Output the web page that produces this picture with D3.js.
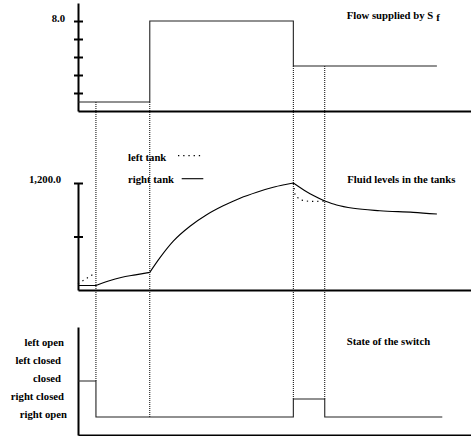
<!DOCTYPE html>
<html>
<head>
<meta charset="utf-8">
<script src="https://cdn.jsdelivr.net/npm/d3@7"></script>
<style>
  body { margin: 0; background: #fff; }
  svg text { font-family: "Liberation Serif", "Times New Roman", serif; font-weight: bold; font-size: 10.7px; fill: #000; }
</style>
</head>
<body>
<svg id="chart" width="471" height="436"></svg>
<script>
// flow supplied by the source (step signal)
const flowTimes = [0, 40, 120, 200];
const flowValues = [0.8, 8.0, 4.0, 4.0];
const flowTicks = [1.6, 3.2, 4.8, 6.4, 8.0];

// fluid levels
const rightTimes = [0, 10, 17, 24, 32, 40, 45.7, 53.1, 62.4, 71.7, 80.9, 90.3, 99.6, 108.8, 115, 120,
  127.4, 137.5, 144.1, 153.4, 168.2, 186.8, 200];
const rightValues = [50, 50, 100, 140, 170, 198, 363, 548, 715, 844, 944, 1030, 1097, 1152, 1180, 1200,
  1102, 997, 953, 916, 889, 871, 852];
const leftTimes = [0, 10, 10, 120, 121, 124, 129, 137.5];
const leftValues = [70, 195, null, 1200, 1060, 1010, 993, 997];
const levelTicks = [600, 1200];

// switch state
const switchStates = ["right open", "right closed", "closed", "left closed", "left open"];
const switchTimes = [0, 10, 120, 137.5, 203];
const switchValues = ["closed", "right open", "right closed", "right open", "right open"];

// moments where something changes
const eventTimes = [10, 40, 120, 137.5];

const svg = d3.select("#chart");

const x = d3.scaleLinear().domain([0, 219]).range([78, 471]);
const yFlow = d3.scaleLinear().domain([0, 9.6]).range([111, 3]);
const yLevel = d3.scaleLinear().domain([0, 1200]).range([290, 183]);
const ySwitch = d3.scaleLinear().domain([-1, 5]).range([435, 327]);
const stateIndex = s => switchStates.indexOf(s);

function stepValue(times, values, t, before) {
  let v = values[0];
  for (let i = 0; i < times.length; i++) {
    if (before ? times[i] < t : times[i] <= t) v = values[i];
  }
  return v;
}

// axes
function styleAxis(g) {
  g.select(".domain").attr("stroke", "#000").attr("stroke-width", 2);
  g.selectAll(".tick line").attr("stroke", "#000").attr("stroke-width", 2).attr("x1", 5);
  g.selectAll(".tick text").attr("dy", 0).attr("font-family", null).attr("font-size", null);
}

const flowAxis = svg.append("g").attr("transform", "translate(78,0)")
  .call(d3.axisLeft(yFlow).tickValues(flowTicks).tickSize(4).tickSizeOuter(0).tickPadding(9)
    .tickFormat(d => d === 8 ? d3.format(".1f")(d) : ""));
styleAxis(flowAxis);

const levelAxis = svg.append("g").attr("transform", "translate(78,0)")
  .call(d3.axisLeft(yLevel).tickValues(levelTicks).tickSize(4).tickSizeOuter(0).tickPadding(13)
    .tickFormat(d => d === 1200 ? d3.format(",.1f")(d) : ""));
styleAxis(levelAxis);
levelAxis.selectAll(".tick text").attr("dy", -1);

const switchAxis = svg.append("g").attr("transform", "translate(78,0)")
  .call(d3.axisLeft(ySwitch).tickValues([]).tickSizeOuter(0));
styleAxis(switchAxis);

[yFlow(0), yLevel(0), ySwitch(-1)].forEach(y0 => {
  const g = svg.append("g").attr("transform", `translate(0,${y0})`)
    .call(d3.axisBottom(x).tickValues([]).tickSizeOuter(0));
  styleAxis(g);
});

svg.append("g").selectAll("text")
  .data(switchStates)
  .join("text")
  .attr("x", (d, i) => [67, 64, 61, 61, 64][i])
  .attr("y", (d, i) => ySwitch(i) + 0.5)
  .attr("text-anchor", "end")
  .text(d => d);

// dotted guides at the events
svg.append("g").selectAll("line")
  .data(eventTimes)
  .join("line")
  .attr("x1", d => x(d)).attr("x2", d => x(d))
  .attr("y1", d => yFlow(Math.min(stepValue(flowTimes, flowValues, d, true), stepValue(flowTimes, flowValues, d, false))))
  .attr("y2", d => ySwitch(Math.max(stateIndex(stepValue(switchTimes, switchValues, d, true)),
                                    stateIndex(stepValue(switchTimes, switchValues, d, false)))))
  .attr("stroke", "#000")
  .attr("stroke-width", 1)
  .attr("stroke-dasharray", "1,1");

// flow
const flowData = flowTimes.map((t, i) => [t, flowValues[i]]);
svg.append("path")
  .datum(flowData)
  .attr("fill", "none")
  .attr("stroke", "#222")
  .attr("stroke-width", 1.1)
  .attr("d", d3.line().x(d => x(d[0])).y(d => yFlow(d[1])).curve(d3.curveStepAfter));

// levels: smooth within each interval, sharp corners at the events
const rightData = rightTimes.map((t, i) => [t, rightValues[i]]);
const leftData = leftTimes.map((t, i) => [t, leftValues[i]]);
const smoothLine = d3.line().x(d => x(d[0])).y(d => yLevel(d[1])).curve(d3.curveMonotoneX);
const bounds = [0, ...eventTimes, Infinity];
const pieces = [];
for (let i = 0; i < bounds.length - 1; i++) {
  const seg = rightData.filter(d => d[0] >= bounds[i] && d[0] <= bounds[i + 1]);
  if (seg.length > 1) pieces.push(seg);
}
svg.append("path")
  .attr("fill", "none")
  .attr("stroke", "#000")
  .attr("stroke-width", 1.1)
  .attr("d", pieces.map(smoothLine).join(""));

svg.append("path")
  .datum(leftData)
  .attr("fill", "none")
  .attr("stroke", "#000")
  .attr("stroke-width", 1.2)
  .attr("stroke-dasharray", "1.3,3.9")
  .attr("d", d3.line().defined(d => d[1] != null).x(d => x(d[0])).y(d => yLevel(d[1])));

// switch
const switchData = switchTimes.map((t, i) => [t, stateIndex(switchValues[i])]);
svg.append("path")
  .datum(switchData)
  .attr("fill", "none")
  .attr("stroke", "#222")
  .attr("stroke-width", 1.1)
  .attr("d", d3.line().x(d => x(d[0])).y(d => ySwitch(d[1])).curve(d3.curveStepAfter));

// legend
svg.append("text").attr("x", 128).attr("y", 160.5).text("left tank");
svg.append("line").attr("x1", 178).attr("x2", 204).attr("y1", 155.7).attr("y2", 155.7)
  .attr("stroke", "#000").attr("stroke-width", 1.2).attr("stroke-dasharray", "1.3,3.9");
svg.append("text").attr("x", 128).attr("y", 182.5).text("right tank");
svg.append("line").attr("x1", 181.7).attr("x2", 203.3).attr("y1", 178.7).attr("y2", 178.7)
  .attr("stroke", "#000").attr("stroke-width", 1.1);

// panel titles
const title1 = svg.append("text").attr("x", 346.7).attr("y", 19).text("Flow supplied by S");
title1.append("tspan").attr("dx", 3).attr("dy", 2).text("f");
svg.append("text").attr("x", 347.3).attr("y", 183).text("Fluid levels in the tanks");
svg.append("text").attr("x", 346.7).attr("y", 345).text("State of the switch");
</script>
</body>
</html>
